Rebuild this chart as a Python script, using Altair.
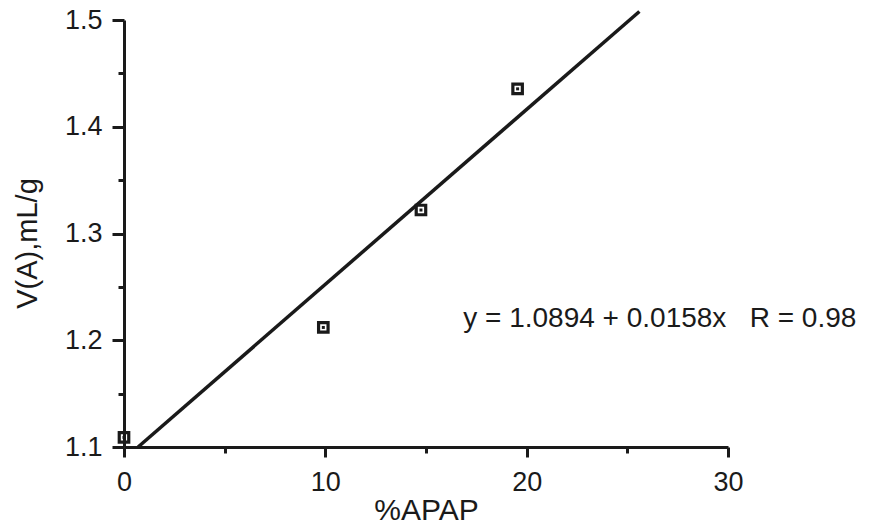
import altair as alt
import pandas as pd

# measured points
apap = [0.0, 9.9, 14.75, 19.55]
va = [1.109, 1.212, 1.322, 1.4355]

# fitted line endpoints (as drawn)
fit_x = [0.7, 25.6]
fit_y = [1.1, 1.508]

equation = "y = 1.0894 + 0.0158x\u00a0\u00a0\u00a0R = 0.98"

pts = pd.DataFrame({"x": apap, "y": va})
fit = pd.DataFrame({"x": fit_x, "y": fit_y})
ann = pd.DataFrame({"x": [16.85], "y": [1.2125], "t": [equation]})

FONT = "Liberation Sans"
INK = "#1a1a1a"

x_scale = alt.Scale(domain=[0, 30], nice=False, zero=False)
y_scale = alt.Scale(domain=[1.1, 1.5], nice=False, zero=False)

x_axis = alt.Axis(
    title="%APAP",
    values=[0, 5, 10, 15, 20, 25, 30],
    labelExpr="datum.value % 10 === 0 ? datum.label : ''",
    tickSize={"condition": {"test": "datum.value % 10 === 0", "value": 10}, "value": 6},
    tickWidth=3, tickColor=INK, domainColor=INK, domainWidth=3,
    labelFont=FONT, labelFontSize=27, labelColor=INK, labelPadding=12,
    titleFont=FONT, titleFontSize=30, titleFontWeight="normal", titleColor=INK,
    titleY=63, titleBaseline="middle",
    grid=False, labelFlush=False,
)
y_axis = alt.Axis(
    title="V(A),mL/g",
    values=[1.1, 1.15, 1.2, 1.25, 1.3, 1.35, 1.4, 1.45, 1.5],
    format=".1f",
    labelExpr="abs(round(datum.value*10) - datum.value*10) < 0.01 ? datum.label : ''",
    tickSize={"condition": {"test": "abs(round(datum.value*10) - datum.value*10) < 0.01", "value": 12},
              "value": 6},
    tickWidth=3, tickColor=INK, domainColor=INK, domainWidth=3,
    labelFont=FONT, labelFontSize=27, labelColor=INK, labelPadding=10,
    titleFont=FONT, titleFontSize=29, titleFontWeight="normal", titleColor=INK,
    titleX=-97, titleY=223, titleBaseline="middle", titleAlign="center", titleAngle=-90,
    grid=False, labelFlush=False,
)

base_x = alt.X("x:Q", scale=x_scale, axis=x_axis)
base_y = alt.Y("y:Q", scale=y_scale, axis=y_axis)

line = alt.Chart(fit).mark_line(color=INK, strokeWidth=3.5).encode(x=base_x, y=base_y)
squares = alt.Chart(pts).mark_square(filled=False, size=90, strokeWidth=3.2, color=INK, opacity=1).encode(
    x="x:Q", y="y:Q")
dots = alt.Chart(pts).mark_square(filled=True, size=9, color=INK, opacity=1).encode(x="x:Q", y="y:Q")
text = alt.Chart(ann).mark_text(align="left", baseline="alphabetic", font=FONT, fontSize=28,
                                color=INK).encode(x="x:Q", y="y:Q", text="t:N")

chart = alt.layer(line, squares, dots, text).properties(
    width=604, height=427,
    autosize=alt.AutoSizeParams(type="none"),
    padding={"left": 124, "top": 20, "right": 143, "bottom": 84},
    background="white",
).configure_view(stroke=None)

chart.save("out.html", embed_options={"renderer": "svg", "actions": False})
